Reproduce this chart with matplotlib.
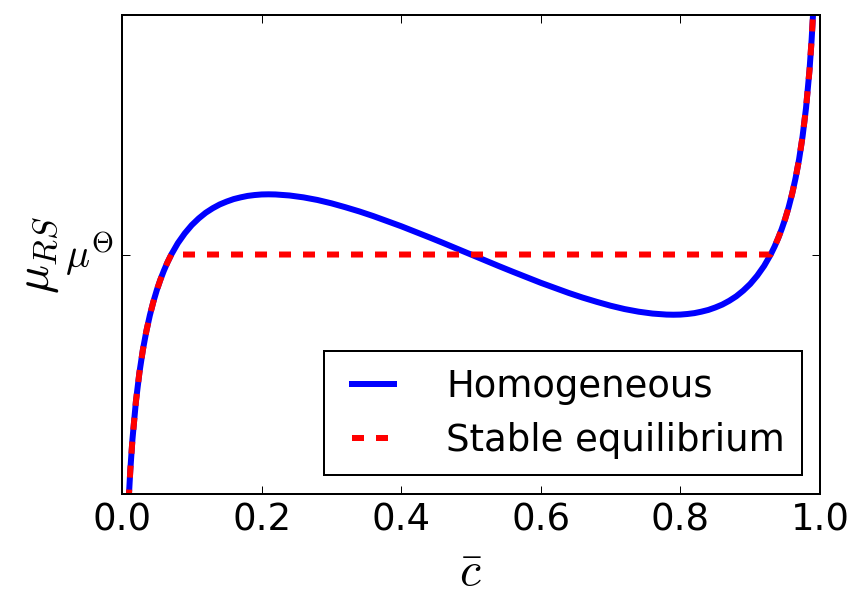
import matplotlib
matplotlib.use("Agg")
import matplotlib.pyplot as plt
import numpy as np

plt.style.use("classic")
plt.rcParams["mathtext.fontset"] = "cm"
plt.rcParams["font.family"] = ["DejaVu Sans"]

# Homogeneous chemical potential curve
c_hom = [0.008, 0.009, 0.010, 0.012, 0.015, 0.020, 0.025, 0.030, 0.035, 0.040,
         0.045, 0.050, 0.055, 0.060, 0.065, 0.0707, 0.080, 0.090, 0.100, 0.110,
         0.120, 0.130, 0.140, 0.150, 0.160, 0.170, 0.180, 0.190, 0.200, 0.210,
         0.220, 0.240, 0.260, 0.280, 0.300, 0.320, 0.340, 0.360, 0.380, 0.400,
         0.420, 0.440, 0.460, 0.480, 0.500,
         0.520, 0.540, 0.560, 0.580, 0.600, 0.620, 0.640, 0.660, 0.680, 0.700,
         0.720, 0.740, 0.760, 0.780, 0.790, 0.800, 0.810, 0.820, 0.830, 0.840,
         0.850, 0.860, 0.870, 0.880, 0.890, 0.900, 0.910, 0.920, 0.9293, 0.935,
         0.940, 0.945, 0.950, 0.955, 0.960, 0.965, 0.970, 0.975, 0.980, 0.985,
         0.988, 0.990, 0.991, 0.992]
mu_hom = [-1.868, -1.755, -1.655, -1.483, -1.275, -1.012, -0.814, -0.656, -0.527, -0.418,
          -0.325, -0.244, -0.174, -0.112, -0.056, 0.000, 0.078, 0.146, 0.203, 0.249,
          0.288, 0.319, 0.345, 0.365, 0.382, 0.394, 0.404, 0.410, 0.414, 0.415,
          0.414, 0.407, 0.394, 0.376, 0.353, 0.326, 0.297, 0.265, 0.230, 0.195,
          0.157, 0.119, 0.080, 0.040, 0.000,
          -0.040, -0.080, -0.119, -0.157, -0.195, -0.230, -0.265, -0.297, -0.326, -0.353,
          -0.376, -0.394, -0.407, -0.414, -0.415, -0.414, -0.410, -0.404, -0.394, -0.382,
          -0.365, -0.345, -0.319, -0.288, -0.249, -0.203, -0.146, -0.078, 0.000, 0.056,
          0.112, 0.174, 0.244, 0.325, 0.418, 0.527, 0.656, 0.814, 1.012, 1.275,
          1.483, 1.655, 1.755, 1.868]

# Coexistence (binodal) concentrations where the equilibrium line is flat
c_bin_low = 0.0707
c_bin_high = 0.9293
mu_theta = 0.0

labels = ["Homogeneous", "Stable equilibrium"]
xticks = [0.0, 0.2, 0.4, 0.6, 0.8, 1.0]

c_arr = np.array(c_hom)
mu_arr = np.array(mu_hom)
mask = (c_arr <= c_bin_low + 1e-9) | (c_arr >= c_bin_high - 1e-9)
c_eq = c_arr[mask]
mu_eq = mu_arr[mask]

fig = plt.figure(figsize=(865 / 144, 606 / 144), dpi=144, facecolor="white")
ax = fig.add_subplot(111)
fig.subplots_adjust(left=0.141, right=0.948, top=0.975, bottom=0.185)

ax.plot(c_arr, mu_arr, color="blue", lw=3, label=labels[0])
ax.plot(c_eq, mu_eq, color="red", lw=3, linestyle=(0, (6, 6)), label=labels[1])

ax.set_xlim(0, 1)
ax.set_ylim(-1.65, 1.65)
ax.set_xticks(xticks)
ax.set_xticklabels(["%.1f" % t for t in xticks], fontsize=18.5)
ax.set_yticks([mu_theta])
ax.set_yticklabels([r"$\mu^\Theta$"], fontsize=20)
ax.set_xlabel(r"$\bar{c}$", fontsize=24)
ax.set_ylabel(r"$\mu_{RS}$", fontsize=24, labelpad=2)

leg = ax.legend(loc="lower right", fontsize=18.5, frameon=True, fancybox=False,
                handlelength=1.75, handletextpad=1.1, borderpad=0.45,
                labelspacing=0.45, borderaxespad=0.5)
leg.get_frame().set_edgecolor("black")

fig.savefig("out.png", dpi=144, facecolor="white")
